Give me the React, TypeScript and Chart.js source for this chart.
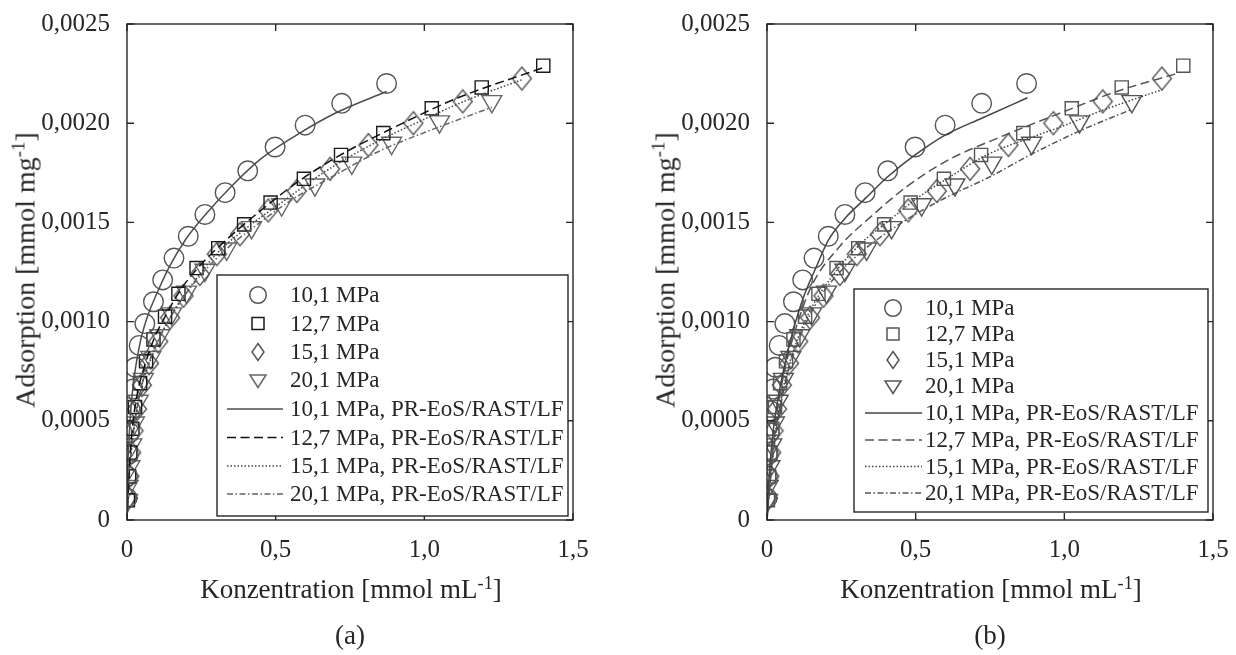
import React, { useEffect, useRef } from "react";
import { Chart, registerables } from "chart.js";
Chart.register(...registerables);

const FONT = '"Liberation Serif", "Times New Roman", serif';
const INK = "#262626";

// ---------- axes ----------
const xTicks = [0, 0.5, 1.0, 1.5];
const xTickLabels = ["0", "0,5", "1,0", "1,5"];
const yTicks = [0, 0.0005, 0.001, 0.0015, 0.002, 0.0025];
const yTickLabels = ["0", "0,0005", "0,0010", "0,0015", "0,0020", "0,0025"];

const seriesNames = ["10,1 MPa", "12,7 MPa", "15,1 MPa", "20,1 MPa"];
const fitSuffix = ", PR-EoS/RAST/LF";

// ---------- measured data (same in both panels) ----------
const conc101 = [0.0005, 0.0015, 0.0045, 0.008, 0.0125, 0.02, 0.028, 0.041, 0.06, 0.089, 0.12, 0.158, 0.206, 0.262, 0.33, 0.406, 0.498, 0.599, 0.722, 0.873];
const ads101 = [0.00011, 0.00022, 0.00033, 0.00044, 0.00055, 0.00066, 0.00077, 0.00088, 0.00099, 0.0011, 0.00121, 0.00132, 0.00143, 0.00154, 0.00165, 0.00176, 0.00188, 0.00199, 0.0021, 0.0022];

const conc127 = [0.003, 0.007, 0.011, 0.018, 0.027, 0.044, 0.064, 0.089, 0.128, 0.173, 0.234, 0.307, 0.394, 0.483, 0.595, 0.72, 0.862, 1.025, 1.193, 1.4];
const ads127 = [0.0001, 0.00022, 0.00034, 0.00046, 0.00057, 0.00069, 0.0008, 0.00091, 0.001025, 0.00114, 0.00127, 0.00137, 0.00149, 0.0016, 0.00172, 0.00184, 0.00195, 0.002075, 0.00218, 0.00229];

const conc151 = [0.003, 0.008, 0.014, 0.022, 0.034, 0.05, 0.074, 0.105, 0.145, 0.19, 0.245, 0.302, 0.38, 0.475, 0.571, 0.683, 0.812, 0.963, 1.129, 1.328];
const ads151 = [0.00011, 0.00022, 0.00034, 0.00045, 0.00056, 0.00068, 0.00079, 0.0009, 0.00102, 0.00113, 0.00124, 0.00134, 0.00144, 0.00156, 0.001658, 0.00177, 0.00189, 0.002, 0.00211, 0.002225];

const conc201 = [0.002, 0.004, 0.01, 0.016, 0.025, 0.038, 0.055, 0.08, 0.11, 0.15, 0.2, 0.262, 0.335, 0.419, 0.52, 0.632, 0.756, 0.89, 1.051, 1.227];
const ads201 = [0.0001, 0.00017, 0.00027, 0.00038, 0.00049, 0.0006, 0.00071, 0.00082, 0.00093, 0.00104, 0.00115, 0.00126, 0.001367, 0.001475, 0.00159, 0.00169, 0.0018, 0.0019, 0.002008, 0.00211];

// ---------- model curves, panel (a) ----------
const fitA101x = [0, 0.002, 0.006, 0.013, 0.025, 0.045, 0.07, 0.1, 0.14, 0.2, 0.27, 0.35, 0.45, 0.57, 0.7, 0.873];
const fitA101y = [0, 0.00023, 0.00038, 0.00056, 0.00073, 0.0009, 0.00103, 0.00114, 0.00127, 0.00142, 0.00155, 0.00168, 0.00182, 0.00194, 0.00205, 0.00216];
const fitA127x = [0, 0.003, 0.01, 0.02, 0.035, 0.06, 0.09, 0.13, 0.18, 0.25, 0.34, 0.45, 0.58, 0.73, 0.9, 1.1, 1.4];
const fitA127y = [0, 0.0001, 0.00031, 0.00049, 0.00064, 0.00078, 0.00091, 0.00103, 0.00116, 0.00129, 0.00142, 0.00156, 0.00171, 0.00185, 0.00198, 0.00212, 0.00228];
const fitA151x = [0, 0.004, 0.012, 0.025, 0.045, 0.075, 0.11, 0.16, 0.22, 0.3, 0.4, 0.52, 0.66, 0.82, 1.0, 1.15, 1.33];
const fitA151y = [0, 0.00013, 0.0003, 0.00048, 0.00065, 0.00079, 0.00092, 0.00106, 0.00119, 0.00134, 0.00147, 0.0016, 0.00175, 0.00189, 0.00202, 0.00212, 0.00222];
const fitA201x = [0, 0.005, 0.015, 0.03, 0.05, 0.08, 0.12, 0.17, 0.24, 0.33, 0.43, 0.55, 0.69, 0.85, 1.03, 1.227];
const fitA201y = [0, 0.00019, 0.00036, 0.00053, 0.00068, 0.00082, 0.00095, 0.00108, 0.00122, 0.00136, 0.00148, 0.00161, 0.00173, 0.00186, 0.00197, 0.00208];

// ---------- model curves, panel (b) ----------
const fitB101x = [0, 0.004, 0.021, 0.038, 0.0605, 0.089, 0.122, 0.167, 0.206, 0.262, 0.33, 0.406, 0.498, 0.599, 0.722, 0.876];
const fitB101y = [0, 0.00015, 0.00045, 0.00062, 0.00079, 0.00096, 0.00112, 0.00128, 0.00141, 0.00152, 0.00162, 0.00173, 0.00184, 0.00194, 0.002025, 0.002128];
const fitB127x = [0, 0.01, 0.03, 0.06, 0.1, 0.15, 0.245, 0.358, 0.47, 0.604, 0.784, 0.985, 1.176, 1.39];
const fitB127y = [0, 0.0002, 0.0005, 0.00076, 0.00098, 0.00118, 0.00138, 0.00154, 0.00168, 0.00181, 0.00193, 0.00205, 0.00216, 0.002255];
const fitB151x = [0, 0.01, 0.03, 0.06, 0.1, 0.15, 0.22, 0.313, 0.403, 0.503, 0.616, 0.739, 0.873, 0.985, 1.12, 1.33];
const fitB151y = [0, 0.00019, 0.00046, 0.0007, 0.0009, 0.00107, 0.00123, 0.00139, 0.0015, 0.00162, 0.00173, 0.00184, 0.00192, 0.00198, 0.00206, 0.00217];
const fitB201x = [0, 0.01, 0.03, 0.06, 0.1, 0.15, 0.2, 0.279, 0.414, 0.582, 0.75, 0.885, 1.05, 1.227];
const fitB201y = [0, 0.00018, 0.00044, 0.00068, 0.00088, 0.00105, 0.00117, 0.0013, 0.00146, 0.00161, 0.00173, 0.00184, 0.00196, 0.00207];

const pts = (xs: number[], ys: number[]) => xs.map((v, i) => ({ x: v, y: ys[i] }));

type Kind = "circle" | "square" | "diamond" | "triangle";
const markerKinds: Kind[] = ["circle", "square", "diamond", "triangle"];
const markerX = [conc101, conc127, conc151, conc201];
const markerY = [ads101, ads127, ads151, ads201];

type LegendGeom = { dl: number; db: number; w: number; h: number; rows: number[]; mx: number; s0: number; s1: number; tx: number; font: number };

type PanelCfg = {
  caption: string;
  markerColors: string[];
  lineColors: string[];
  fits: { x: number[]; y: number[] }[];
  legend: LegendGeom;
};

const dashes = [[], [9, 4.5], [1.5, 2], [6, 2.5, 1.5, 2.5]];

const panelA: PanelCfg = {
  caption: "(a)",
  markerColors: ["#555555", "#1a1a1a", "#555555", "#666666"],
  lineColors: ["#4d4d4d", "#111111", "#444444", "#666666"],
  fits: [
    { x: fitA101x, y: fitA101y },
    { x: fitA127x, y: fitA127y },
    { x: fitA151x, y: fitA151y },
    { x: fitA201x, y: fitA201y },
  ],
  legend: { dl: 356, db: 245, w: 351, h: 241, rows: [20, 48.5, 77, 105, 134, 162.5, 191, 219], mx: 41, s0: 10, s1: 66, tx: 73, font: 23 },
};

const panelB: PanelCfg = {
  caption: "(b)",
  markerColors: ["#555555", "#555555", "#555555", "#555555"],
  lineColors: ["#444444", "#555555", "#444444", "#555555"],
  fits: [
    { x: fitB101x, y: fitB101y },
    { x: fitB127x, y: fitB127y },
    { x: fitB151x, y: fitB151y },
    { x: fitB201x, y: fitB201y },
  ],
  legend: { dl: 359, db: 231, w: 354, h: 223, rows: [19, 45, 71, 97, 124, 151, 177.5, 204], mx: 39, s0: 11, s1: 68, tx: 71, font: 23 },
};

function diamondImage(color: string) {
  const c = document.createElement("canvas");
  const w = 22;
  const h = 26;
  c.width = w;
  c.height = h;
  const g = c.getContext("2d") as CanvasRenderingContext2D;
  g.strokeStyle = color;
  g.lineWidth = 1.4;
  g.beginPath();
  g.moveTo(w / 2, 1.5);
  g.lineTo(w - 1.5, h / 2);
  g.lineTo(w / 2, h - 1.5);
  g.lineTo(1.5, h / 2);
  g.closePath();
  g.stroke();
  return c;
}

function drawLegendMarker(ctx: CanvasRenderingContext2D, kind: Kind, cx: number, cy: number) {
  ctx.beginPath();
  if (kind === "circle") {
    ctx.arc(cx, cy, 8.3, 0, Math.PI * 2);
  } else if (kind === "square") {
    ctx.rect(cx - 6, cy - 6, 12, 12);
  } else if (kind === "diamond") {
    ctx.moveTo(cx, cy - 8.5);
    ctx.lineTo(cx + 6, cy);
    ctx.lineTo(cx, cy + 8.5);
    ctx.lineTo(cx - 6, cy);
    ctx.closePath();
  } else {
    ctx.moveTo(cx - 8, cy - 5);
    ctx.lineTo(cx + 8, cy - 5);
    ctx.lineTo(cx, cy + 7.5);
    ctx.closePath();
  }
  ctx.stroke();
}

function makePlugin(cfg: PanelCfg) {
  return {
    id: "frameLegend",
    afterDatasetsDraw(chart: any) {
      const { ctx, chartArea, scales } = chart;
      const { left, right, top, bottom } = chartArea;
      ctx.save();
      ctx.strokeStyle = INK;
      ctx.lineWidth = 1.4;
      ctx.strokeRect(left, top, right - left, bottom - top);
      const tl = 7;
      ctx.beginPath();
      for (const v of xTicks) {
        const px = scales.x.getPixelForValue(v);
        ctx.moveTo(px, bottom);
        ctx.lineTo(px, bottom - tl);
        ctx.moveTo(px, top);
        ctx.lineTo(px, top + tl);
      }
      for (const v of yTicks) {
        const py = scales.y.getPixelForValue(v);
        ctx.moveTo(left, py);
        ctx.lineTo(left + tl, py);
        ctx.moveTo(right, py);
        ctx.lineTo(right - tl, py);
      }
      ctx.stroke();

      // legend
      const g = cfg.legend;
      const bl = right - g.dl;
      const bt = bottom - g.db;
      ctx.fillStyle = "#ffffff";
      ctx.fillRect(bl, bt, g.w, g.h);
      ctx.strokeStyle = INK;
      ctx.lineWidth = 1.4;
      ctx.strokeRect(bl, bt, g.w, g.h);
      ctx.font = `${g.font}px ${FONT}`;
      ctx.textBaseline = "middle";
      ctx.textAlign = "left";
      for (let i = 0; i < 8; i++) {
        const cy = bt + g.rows[i];
        const s = i % 4;
        ctx.lineWidth = 1.5;
        if (i < 4) {
          ctx.strokeStyle = cfg.markerColors[s];
          ctx.setLineDash([]);
          drawLegendMarker(ctx, markerKinds[s], bl + g.mx, cy);
        } else {
          ctx.strokeStyle = cfg.lineColors[s];
          ctx.setLineDash(dashes[s]);
          ctx.beginPath();
          ctx.moveTo(bl + g.s0, cy);
          ctx.lineTo(bl + g.s1, cy);
          ctx.stroke();
          ctx.setLineDash([]);
        }
        ctx.fillStyle = INK;
        ctx.fillText(i < 4 ? seriesNames[s] : seriesNames[s] + fitSuffix, bl + g.tx, cy + 1);
      }
      ctx.restore();
    },
  };
}

const CW = 596;
const CH = 655;

function Panel({ left, cfg }: { left: number; cfg: PanelCfg }) {
  const ref = useRef<HTMLCanvasElement>(null);
  useEffect(() => {
    const lineSets = cfg.fits.map((f, i) => ({
      type: "line" as const,
      data: pts(f.x, f.y),
      showLine: true,
      borderColor: cfg.lineColors[i],
      borderWidth: 1.5,
      borderDash: dashes[i],
      pointRadius: 0,
      fill: false,
      cubicInterpolationMode: "monotone" as const,
    }));
    const pointStyles: any[] = ["circle", "rect", diamondImage(cfg.markerColors[2]), "triangle"];
    const radii = [9.8, 9.3, 11, 11.5];
    const rots = [0, 0, 0, 180];
    const markerSets = markerKinds.map((k, i) => ({
      type: "scatter" as const,
      data: pts(markerX[i], markerY[i]),
      showLine: false,
      pointStyle: pointStyles[i],
      pointRadius: radii[i],
      pointRotation: rots[i],
      borderColor: cfg.markerColors[i],
      backgroundColor: "rgba(0,0,0,0)",
      borderWidth: 1.4,
    }));
    const chart = new Chart(ref.current as HTMLCanvasElement, {
      type: "scatter",
      data: { datasets: [...lineSets, ...markerSets] as any },
      options: {
        animation: false,
        responsive: false,
        devicePixelRatio: 1,
        layout: { padding: { left: 0, right: 23, top: 20, bottom: 0 } },
        plugins: { legend: { display: false }, tooltip: { enabled: false } },
        scales: {
          x: {
            type: "linear",
            min: 0,
            max: 1.5,
            grid: { display: false },
            border: { display: false },
            ticks: {
              font: { family: FONT, size: 25 },
              color: INK,
              padding: 7,
              maxRotation: 0,
              autoSkip: false,
              callback: (_v: any, i: number) => xTickLabels[i],
            },
            afterBuildTicks: (s: any) => {
              s.ticks = xTicks.map((v) => ({ value: v }));
            },
            afterFit: (s: any) => {
              s.height = 135;
            },
          },
          y: {
            type: "linear",
            min: 0,
            max: 0.0025,
            grid: { display: false },
            border: { display: false },
            ticks: {
              font: { family: FONT, size: 25 },
              color: INK,
              padding: 9,
              autoSkip: false,
              callback: (_v: any, i: number) => yTickLabels[i],
            },
            afterBuildTicks: (s: any) => {
              s.ticks = yTicks.map((v) => ({ value: v }));
            },
            afterFit: (s: any) => {
              s.width = 127;
            },
          },
        },
      },
      plugins: [makePlugin(cfg)],
    } as any);
    return () => chart.destroy();
  }, []);

  const sup = { fontSize: "0.68em", position: "relative" as const, top: "-0.5em" };
  return (
    <>
      <canvas
        ref={ref}
        width={CW}
        height={CH}
        style={{ position: "absolute", left, top: 0, width: CW, height: CH, display: "block" }}
      />
      <div
        style={{
          position: "absolute",
          left: left + 351,
          top: 590,
          transform: "translate(-50%, -50%)",
          whiteSpace: "nowrap",
          fontSize: 27,
          lineHeight: "30px",
        }}
      >
        Konzentration [mmol mL<span style={sup}>-1</span>]
      </div>
      <div
        style={{
          position: "absolute",
          left: left + 27,
          top: 270,
          transform: "translate(-50%, -50%) rotate(-90deg)",
          whiteSpace: "nowrap",
          fontSize: 28,
          lineHeight: "30px",
        }}
      >
        Adsorption [mmol mg<span style={sup}>-1</span>]
      </div>
      <div
        style={{
          position: "absolute",
          left: left + 350,
          top: 635,
          transform: "translate(-50%, -50%)",
          whiteSpace: "nowrap",
          fontSize: 27,
          lineHeight: "30px",
        }}
      >
        {cfg.caption}
      </div>
    </>
  );
}

export default function App() {
  return (
    <div
      style={{
        position: "absolute",
        left: 0,
        top: 0,
        width: 1236,
        height: 655,
        background: "#ffffff",
        fontFamily: FONT,
        color: INK,
        overflow: "hidden",
      }}
    >
      <Panel left={0} cfg={panelA} />
      <Panel left={640} cfg={panelB} />
    </div>
  );
}
